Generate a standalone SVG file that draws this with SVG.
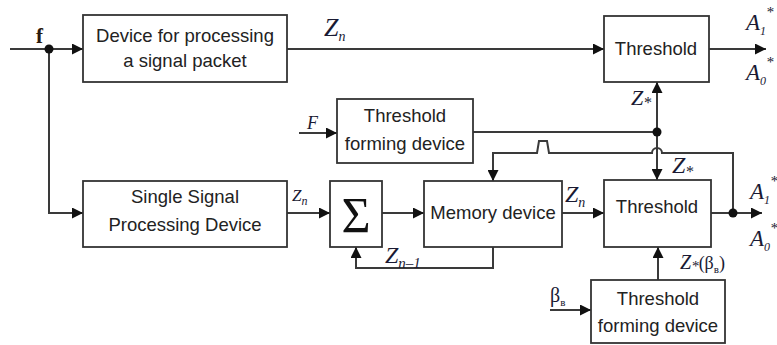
<svg xmlns="http://www.w3.org/2000/svg" width="777" height="345" viewBox="0 0 777 345">
<style>
.box{fill:#fff;stroke:#333;stroke-width:1.8}
.ln{fill:none;stroke:#3a3a3a;stroke-width:2}
.t{font-family:"Liberation Sans",Arial,sans-serif;font-size:18.5px;fill:#222;text-anchor:middle}
.m{font-family:"Liberation Serif","Times New Roman",serif;font-style:italic;fill:#1a1a33}
.dot{fill:#111}
</style>
<defs>
<marker id="ah" viewBox="0 0 10 10" refX="10" refY="5" markerWidth="11" markerHeight="11" markerUnits="userSpaceOnUse" orient="auto">
<path d="M0,0 L10,5 L0,10 z" fill="#111"/>
</marker>
</defs>
<rect width="777" height="345" fill="#fff"/>

<g id="connectors">
<path class="ln" d="M10,49 H83" marker-end="url(#ah)"/>
<path class="ln" d="M49,49 V213 H83" marker-end="url(#ah)"/>
<path class="ln" d="M287,49 H604" marker-end="url(#ah)"/>
<path class="ln" d="M709,49 H766" marker-end="url(#ah)"/>
<path class="ln" d="M299,133 H337" marker-end="url(#ah)"/>
<path class="ln" d="M473,132 H657"/>
<path class="ln" d="M657,132 V82" marker-end="url(#ah)"/>
<path class="ln" d="M657,132 V180" marker-end="url(#ah)"/>
<path class="ln" d="M287,213 H330" marker-end="url(#ah)"/>
<path class="ln" d="M382,213 H424" marker-end="url(#ah)"/>
<path class="ln" d="M562,213 H604" marker-end="url(#ah)"/>
<path class="ln" d="M711,213 H762" marker-end="url(#ah)"/>
<path class="ln" d="M493,247 V268 H356 V247" marker-end="url(#ah)"/>
<path class="ln" d="M733,213 V153 H662 A5,5 0 0 0 652,153 H549 L547,141 H539 L537,153 H493 V181" marker-end="url(#ah)"/>
<path class="ln" d="M658,280 V247" marker-end="url(#ah)"/>
<path class="ln" d="M550,310 H591" marker-end="url(#ah)"/>
<circle class="dot" cx="49" cy="49" r="4.5"/>
<circle class="dot" cx="657" cy="132" r="4.5"/>
<circle class="dot" cx="733" cy="213" r="4.5"/>
</g>

<g id="packet">
<rect class="box" x="83" y="15" width="204" height="67"/>
<text class="t" x="185" y="42">Device for processing</text>
<text class="t" x="185" y="67">a signal packet</text>
</g>
<g id="threshold-top">
<rect class="box" x="604" y="16" width="105" height="66"/>
<text class="t" x="656" y="55">Threshold</text>
</g>
<g id="tfd-top">
<rect class="box" x="337" y="99" width="136" height="64"/>
<text class="t" x="405" y="122">Threshold</text>
<text class="t" x="405" y="150">forming device</text>
</g>
<g id="single">
<rect class="box" x="83" y="181" width="204" height="66"/>
<text class="t" x="185" y="203">Single Signal</text>
<text class="t" x="185" y="231">Processing Device</text>
</g>
<g id="sum">
<rect class="box" x="330" y="181" width="52" height="66"/>
<text x="356" y="232" text-anchor="middle" style="font-family:'Liberation Serif','Times New Roman',serif;font-size:50px;fill:#111">Σ</text>
</g>
<g id="memory">
<rect class="box" x="424" y="181" width="138" height="66"/>
<text class="t" x="493" y="219">Memory device</text>
</g>
<g id="threshold-low">
<rect class="box" x="604" y="180" width="107" height="67"/>
<text class="t" x="657" y="213">Threshold</text>
</g>
<g id="tfd-low">
<rect class="box" x="591" y="280" width="134" height="63"/>
<text class="t" x="658" y="305">Threshold</text>
<text class="t" x="658" y="332">forming device</text>
</g>

<g id="labels">
<text x="36" y="43" style="font-family:'Liberation Serif',serif;font-weight:bold;font-size:21px;fill:#2a1a10">f</text>
<text class="m" x="324" y="36" font-size="26">Z<tspan font-size="14" dy="5">n</tspan></text>
<text class="m" x="746" y="30" font-size="23">A<tspan font-size="12" dy="5">1</tspan><tspan font-size="15" dy="-18">*</tspan></text>
<text class="m" x="746" y="80" font-size="23">A<tspan font-size="12" dy="5">0</tspan><tspan font-size="15" dy="-18">*</tspan></text>
<text class="m" x="631" y="105" font-size="22">Z<tspan font-size="16" dy="3">*</tspan></text>
<text class="m" x="307" y="129" font-size="18">F</text>
<text class="m" x="672" y="173" font-size="24">Z<tspan font-size="16" dy="4">*</tspan></text>
<text class="m" x="292" y="201" font-size="17">Z<tspan font-size="12" dy="4">n</tspan></text>
<text class="m" x="565" y="202" font-size="24">Z<tspan font-size="14" dy="5">n</tspan></text>
<text class="m" x="385" y="263" font-size="24">Z<tspan font-size="15" dy="5">n–1</tspan></text>
<text class="m" x="750" y="199" font-size="23">A<tspan font-size="12" dy="5">1</tspan><tspan font-size="15" dy="-18">*</tspan></text>
<text class="m" x="750" y="246" font-size="23">A<tspan font-size="12" dy="5">0</tspan><tspan font-size="15" dy="-18">*</tspan></text>
<text class="m" x="680" y="269" font-size="20">Z<tspan font-size="15" dy="2">*</tspan><tspan font-size="18" font-style="normal" dy="-2">(β<tspan font-size="11" dy="4">в</tspan><tspan dy="-4">)</tspan></tspan></text>
<text x="550" y="302" style="font-family:'Liberation Serif',serif;font-size:20px;fill:#1a1a33">β<tspan font-size="11" dy="4">в</tspan></text>
</g>
</svg>
